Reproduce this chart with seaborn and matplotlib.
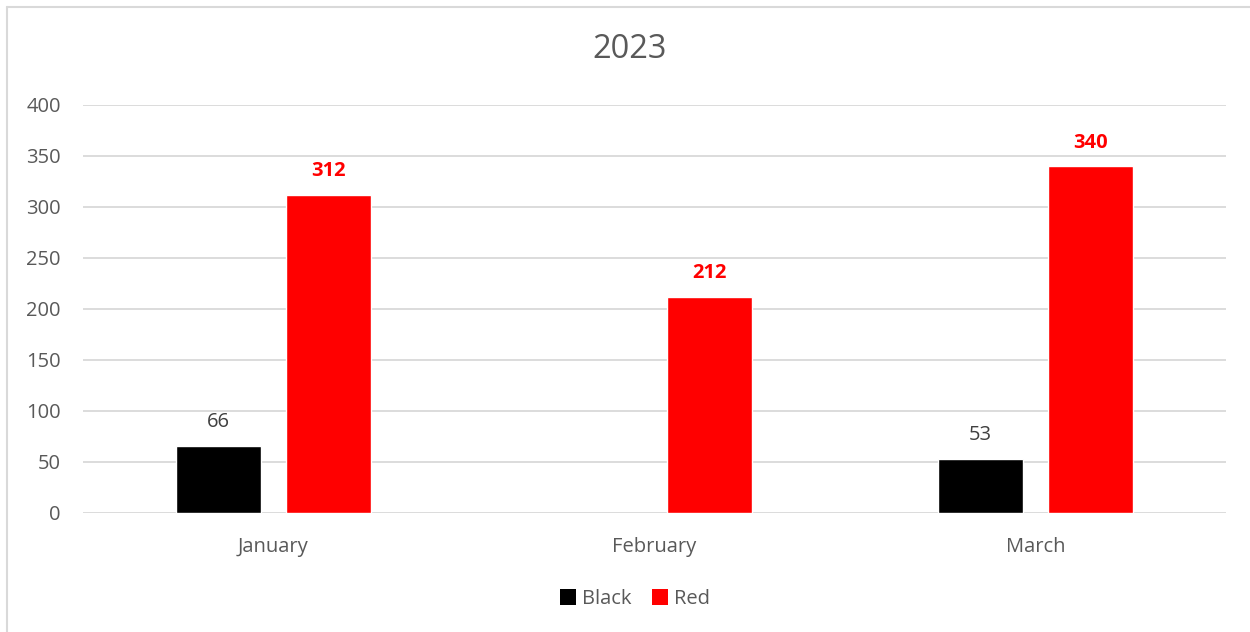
import numpy as np
import pandas as pd
import matplotlib
matplotlib.use("Agg")
import matplotlib.pyplot as plt
from matplotlib.lines import Line2D
from matplotlib.patches import Patch
import seaborn as sns

# Monthly counts per colour
months = ["January", "February", "March"]
black_counts = [66, np.nan, 53]
red_counts = [312, 212, 340]
series_names = ["Black", "Red"]
series_colors = ["#000000", "#FF0000"]
y_ticks = [0, 50, 100, 150, 200, 250, 300, 350, 400]
title_text = "2023"

df = pd.DataFrame({
    "month": months * 2,
    "series": ["Black"] * len(months) + ["Red"] * len(months),
    "value": black_counts + red_counts,
})

sns.set_theme(style="white")
plt.rcParams["font.family"] = ["Open Sans", "DejaVu Sans"]

text_gray = "#595959"
grid_gray = "#D9D9D9"
fs = 14.5

fig = plt.figure(figsize=(12.5, 6.32), dpi=100)
ax = fig.add_axes([0.0664, 0.1883, 0.9144, 0.6456])

sns.barplot(
    data=df, x="month", y="value", hue="series",
    order=months, hue_order=series_names,
    palette=series_colors, width=0.578, gap=0.228,
    saturation=1, errorbar=None, legend=False, ax=ax,
)

ax.set_ylim(0, 400)
ax.set_yticks(y_ticks)
ax.set_xlim(-0.5, len(months) - 0.5)
ax.yaxis.grid(True, color=grid_gray, linewidth=1.3)
ax.set_axisbelow(True)
for s in ax.spines.values():
    s.set_visible(False)
ax.set_xlabel("")
ax.set_ylabel("")
ax.tick_params(axis="both", length=0, labelsize=fs, labelcolor=text_gray)
ax.tick_params(axis="y", pad=16)
ax.tick_params(axis="x", pad=17)

# Value labels on the bars (missing values have no bar and no label)
for container, name in zip(ax.containers, series_names):
    vals = black_counts if name == "Black" else red_counts
    present = [v for v in vals if not np.isnan(v)]
    for rect, v in zip(container, present):
        x = rect.get_x() + rect.get_width() / 2
        if name == "Black":
            ax.annotate(f"{int(v)}", (x, v), xytext=(0, 17), textcoords="offset points",
                        ha="center", va="center", fontsize=fs, color="#404040")
        else:
            ax.annotate(f"{int(v)}", (x, v), xytext=(0, 17), textcoords="offset points",
                        ha="center", va="center", fontsize=fs, color="#FF0000",
                        fontweight="bold")

fig.text(0.504, 0.921, title_text, ha="center", va="center",
         fontsize=23.5, color=text_gray)

handles = [Patch(facecolor=c, edgecolor="none") for c in series_colors]
fig.legend(handles, series_names, loc="center", bbox_to_anchor=(0.508, 0.052),
           ncol=2, frameon=False, fontsize=fs, labelcolor=text_gray,
           handlelength=0.8, handleheight=0.8, handletextpad=0.3,
           columnspacing=1.0)

# Chart frame edges
fig.add_artist(Line2D([0.0054, 1.0], [1 - 7 / 632, 1 - 7 / 632],
                      transform=fig.transFigure, color=grid_gray, linewidth=1.5))
fig.add_artist(Line2D([0.0054, 0.0054], [0.0, 1 - 7 / 632],
                      transform=fig.transFigure, color=grid_gray, linewidth=1.5))

fig.savefig("out.png", dpi=100, facecolor="white")
